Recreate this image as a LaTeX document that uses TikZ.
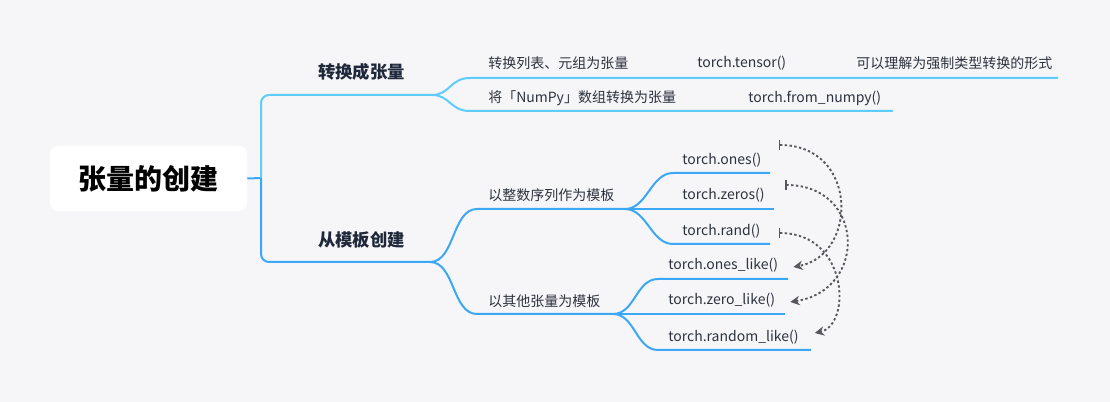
\documentclass[tikz,border=0pt]{standalone}
\usepackage{fontspec}
\setmainfont{Noto Sans CJK SC}
\usetikzlibrary{positioning,arrows.meta,calc}
\definecolor{bgc}{RGB}{246,246,249}
\definecolor{mapcyan}{RGB}{95,205,250}
\definecolor{mapblue}{RGB}{60,168,245}
\definecolor{topicink}{RGB}{30,40,58}
\definecolor{leafink}{RGB}{45,50,60}
\definecolor{relgray}{RGB}{88,88,92}
\tikzset{
  rootbox/.style={rounded corners=6pt, fill=white, minimum width=147.75pt, minimum height=48.75pt, font=\bfseries\fontsize{21}{24}\selectfont, text=black},
  maintopic/.style={anchor=west, inner sep=0pt, font=\bfseries\fontsize{13}{16}\selectfont, text=topicink},
  leaf/.style={anchor=west, inner sep=0pt, font=\fontsize{10.5}{12}\selectfont, text=leafink},
  cyanline/.style={draw=mapcyan, line width=1.5pt},
  blueline/.style={draw=mapblue, line width=1.5pt},
  rel/.style={draw=relgray, line width=1.4pt, dash pattern=on 1.8pt off 1.8pt, {Bar[width=7pt]}-{Stealth[length=7pt,width=7pt]}},
}

\begin{document}
\begin{tikzpicture}[x=0.75pt,y=-0.75pt]
  \fill[bgc] (0,0) rectangle (1110,402);
  \useasboundingbox (0,0) rectangle (1110,402);
  % root
  \node[rootbox] (root) at (148.5,178.5) {张量的创建};
  \coordinate (hub) at (261,178);
  \draw[blueline] (root.east) -- (hub);
  % branch 1
  \node[maintopic] (conv) at (318,72) {转换成张量};
  \coordinate (convR) at (432,95);
  \draw[cyanline, rounded corners=6pt] (hub) |- (convR);
  \coordinate (listL) at (470,78);
  \coordinate (listR) at (1058,78);
  \coordinate (npL) at (470,111);
  \coordinate (npR) at (893,111);
  \draw[cyanline] (convR) .. controls +(18,0) and +(-20,0) .. (listL) -- (listR);
  \draw[cyanline] (convR) .. controls +(18,0) and +(-20,0) .. (npL) -- (npR);
  \node[leaf] (list) at (488,63) {转换列表、元组为张量};
  \node[leaf] (tensor) at (697,63) {torch.tensor()};
  \node[leaf] (cast) at (856,63) {可以理解为强制类型转换的形式};
  \node[leaf] (np) at (488,98) {将「NumPy」数组转换为张量};
  \node[leaf] (fromnp) at (748,98) {torch.from\_numpy()};
  % branch 2
  \node[maintopic] (tmpl) at (318,240) {从模板创建};
  \coordinate (tmplR) at (430,262);
  \draw[blueline, rounded corners=6pt] (hub) |- (tmplR);
  \coordinate (seqL) at (477,209);
  \coordinate (seqR) at (625,209);
  \coordinate (othL) at (477,314);
  \coordinate (othR) at (613,314);
  \draw[blueline] (tmplR) .. controls +(25,0) and +(-25,0) .. (seqL) -- (seqR);
  \draw[blueline] (tmplR) .. controls +(25,0) and +(-25,0) .. (othL) -- (othR);
  \node[leaf] (seq) at (488,195) {以整数序列作为模板};
  \node[leaf] (oth) at (488,301) {以其他张量为模板};
  % integer sequence leaves
  \draw[blueline] (seqR) .. controls +(22,0) and +(-22,0) .. (673,173) -- (770,173);
  \draw[blueline] (seqR) -- (774,209);
  \draw[blueline] (seqR) .. controls +(22,0) and +(-22,0) .. (673,244) -- (770,244);
  \node[leaf] (ones) at (682,160) {torch.ones()};
  \node[leaf] (zeros) at (682,195) {torch.zeros()};
  \node[leaf] (rand) at (682,231) {torch.rand()};
  % other tensor leaves
  \draw[blueline] (othR) .. controls +(22,0) and +(-22,0) .. (658,279) -- (788,279);
  \draw[blueline] (othR) -- (785,314);
  \draw[blueline] (othR) .. controls +(22,0) and +(-22,0) .. (658,350) -- (811,350);
  \node[leaf] (oneslike) at (668,265) {torch.ones\_like()};
  \node[leaf] (zerolike) at (668,300) {torch.zero\_like()};
  \node[leaf] (randlike) at (668,337) {torch.random\_like()};
  % relations
  \draw[rel] ($(ones.east)+(17,-15)$) .. controls +(80,0) and +(65,-12) .. ($(oneslike.east)+(15,2)$);
  \draw[rel] ($(zeros.east)+(20,-10)$) .. controls +(80,0) and +(78,-12) .. ($(zerolike.east)+(15,2)$);
  \draw[rel] ($(rand.east)+(18,2)$) .. controls +(70,0) and +(37,-8) .. ($(randlike.east)+(16,-4)$);
\end{tikzpicture}
\end{document}
